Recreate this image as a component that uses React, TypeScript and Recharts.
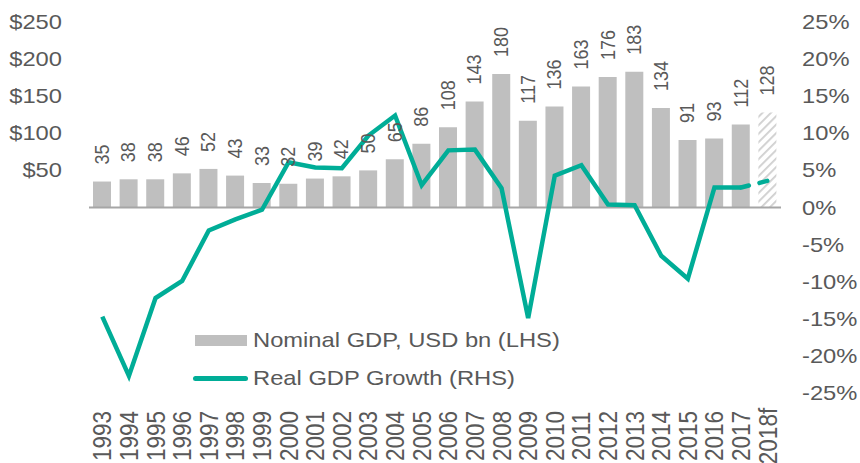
import { ComposedChart, Bar, Line, XAxis, YAxis, ReferenceLine, LabelList, Cell } from "recharts";

const years = [
  "1993", "1994", "1995", "1996", "1997", "1998", "1999", "2000", "2001", "2002",
  "2003", "2004", "2005", "2006", "2007", "2008", "2009", "2010", "2011", "2012",
  "2013", "2014", "2015", "2016", "2017", "2018f",
];
const nominalGdp = [
  35, 38, 38, 46, 52, 43, 33, 32, 39, 42, 50, 65, 86, 108, 143, 180, 117, 136, 163, 176,
  183, 134, 91, 93, 112, 128,
];
const realGrowth = [
  -14.7, -22.7, -12.2, -9.9, -3.1, -1.6, -0.3, 6.1, 5.4, 5.3, 9.7, 12.4, 3.0, 7.7, 7.8, 2.6,
  -14.9, 4.3, 5.7, 0.4, 0.3, -6.5, -9.6, 2.7, 2.7, 3.6,
];
const forecastYear = "2018f";
const leftTicks = [50, 100, 150, 200, 250];
const rightTicks = [-25, -20, -15, -10, -5, 0, 5, 10, 15, 20, 25];

const GREY = "#bfbfbf";
const TEAL = "#00ad97";
const TEXT = "#595959";
const FONT = '"Liberation Sans", Arial, sans-serif';
const SX = 1.13; // reference text is a little wider than plain Arial

const lastActual = years.length - 2;
const data = years.map((year, i) => ({
  year,
  gdp: nominalGdp[i],
  growth: year === forecastYear ? null : realGrowth[i],
  growthF: i >= lastActual ? realGrowth[i] : null,
}));

function AxisTick(props: any) {
  const { x, y, payload, textAnchor, fmt } = props;
  return (
    <text
      transform={`translate(${x},${y}) scale(${SX},1)`}
      textAnchor={textAnchor}
      dominantBaseline="central"
      fontFamily={FONT}
      fontSize={21}
      fill={TEXT}
    >
      {fmt(payload.value)}
    </text>
  );
}

function YearTick(props: any) {
  const { x, y, payload } = props;
  return (
    <text
      transform={`translate(${x},${y + 43}) scale(${SX},1) rotate(-90)`}
      textAnchor="middle"
      dominantBaseline="central"
      fontFamily={FONT}
      fontSize={22.5}
      fill={TEXT}
    >
      {payload.value}
    </text>
  );
}

function BarValue(props: any) {
  const { x, y, width, value } = props;
  return (
    <text
      transform={`translate(${x + width / 2},${y - 17}) scale(${SX},1) rotate(-90)`}
      textAnchor="start"
      dominantBaseline="central"
      fontFamily={FONT}
      fontSize={18}
      fill={TEXT}
    >
      {value}
    </text>
  );
}

export default function App() {
  return (
    <div style={{ position: "absolute", left: 0, top: 0, width: 860, height: 463, background: "#fff" }}>
      <ComposedChart
        width={860}
        height={463}
        data={data}
        margin={{ top: 22, right: 0, left: 0, bottom: 0 }}
      >
        <defs>
          <pattern id="hatch" width="6" height="6" patternUnits="userSpaceOnUse" patternTransform="rotate(45)">
            <rect width="6" height="6" fill="#ffffff" />
            <line x1="0" y1="0" x2="0" y2="6" stroke="#cfcfcf" strokeWidth="3.6" />
          </pattern>
        </defs>
        <XAxis
          dataKey="year"
          interval={0}
          axisLine={false}
          tickLine={false}
          tickSize={0}
          tickMargin={0}
          height={70}
          tick={<YearTick />}
        />
        <YAxis
          yAxisId="left"
          domain={[-250, 250]}
          ticks={leftTicks}
          axisLine={false}
          tickLine={false}
          tickSize={0}
          tickMargin={27}
          width={89}
          tick={<AxisTick fmt={(v: number) => `$${v}`} />}
        />
        <YAxis
          yAxisId="right"
          orientation="right"
          domain={[-25, 25]}
          ticks={rightTicks}
          axisLine={false}
          tickLine={false}
          tickSize={0}
          tickMargin={21}
          width={79}
          tick={<AxisTick fmt={(v: number) => `${v}%`} />}
        />
        <Bar yAxisId="left" dataKey="gdp" fill={GREY} barSize={18} isAnimationActive={false}>
          {data.map((d) => (
            <Cell key={d.year} fill={d.year === forecastYear ? "url(#hatch)" : GREY} />
          ))}
          <LabelList dataKey="gdp" content={<BarValue />} />
        </Bar>
        <ReferenceLine yAxisId="left" y={0} stroke="#a6a6a6" strokeWidth={2} />
        <Line
          yAxisId="right"
          dataKey="growth"
          stroke={TEAL}
          strokeWidth={4.5}
          dot={false}
          activeDot={false}
          strokeLinejoin="miter"
          isAnimationActive={false}
        />
        <Line
          yAxisId="right"
          dataKey="growthF"
          stroke={TEAL}
          strokeWidth={4.5}
          strokeDasharray="8 11"
          strokeLinecap="round"
          dot={false}
          activeDot={false}
          isAnimationActive={false}
        />
      </ComposedChart>

      {/* legend sits inside the plot, lower middle */}
      <div style={{ position: "absolute", left: 193, top: 326, fontFamily: FONT, fontSize: 21, color: TEXT }}>
        <div style={{ display: "flex", alignItems: "center", height: 28 }}>
          <span style={{ display: "inline-block", width: 52, height: 11, background: GREY, marginLeft: 2 }} />
          <span style={{ marginLeft: 6, transform: `scaleX(${SX})`, transformOrigin: "left center", whiteSpace: "nowrap" }}>
            Nominal GDP, USD bn (LHS)
          </span>
        </div>
        <div style={{ display: "flex", alignItems: "center", height: 28, marginTop: 10 }}>
          <span style={{ display: "inline-block", width: 55, height: 5, background: TEAL, borderRadius: 3 }} />
          <span style={{ marginLeft: 5, transform: `scaleX(${SX})`, transformOrigin: "left center", whiteSpace: "nowrap" }}>
            Real GDP Growth (RHS)
          </span>
        </div>
      </div>
    </div>
  );
}
